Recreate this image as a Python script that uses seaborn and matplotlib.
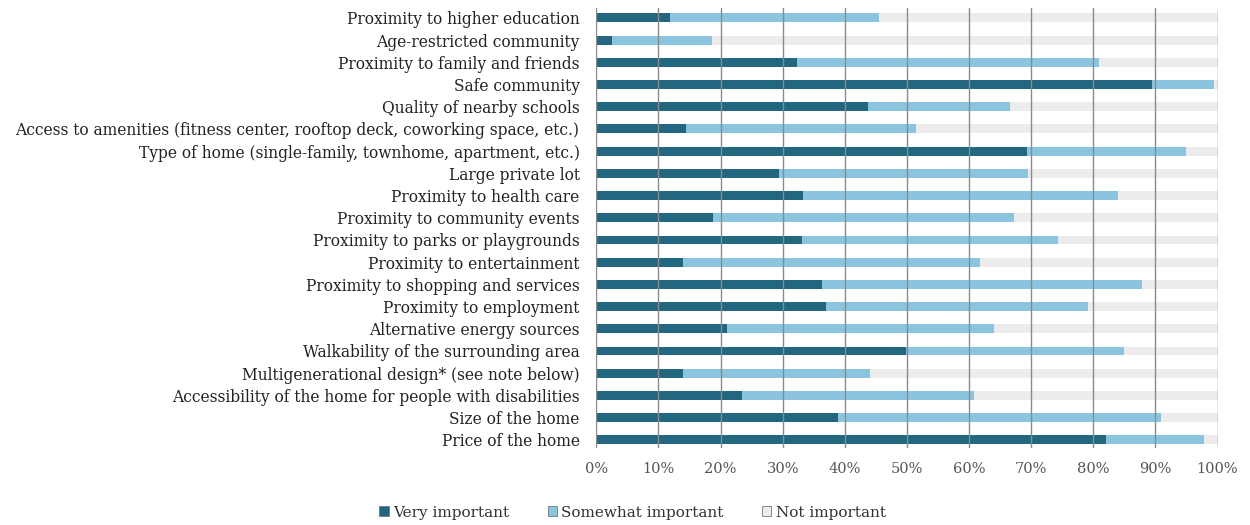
import pandas as pd
import matplotlib.pyplot as plt
import seaborn as sns
from matplotlib.patches import Patch

# Survey data (percent of respondents)
categories = [
    'Proximity to higher education',
    'Age-restricted community',
    'Proximity to family and friends',
    'Safe community',
    'Quality of nearby schools',
    'Access to amenities (fitness center, rooftop deck, coworking space, etc.)',
    'Type of home (single-family, townhome, apartment, etc.)',
    'Large private lot',
    'Proximity to health care',
    'Proximity to community events',
    'Proximity to parks or playgrounds',
    'Proximity to entertainment',
    'Proximity to shopping and services',
    'Proximity to employment',
    'Alternative energy sources',
    'Walkability of the surrounding area',
    'Multigenerational design* (see note below)',
    'Accessibility of the home for people with disabilities',
    'Size of the home',
    'Price of the home',
]
very_important = [11.8, 2.6, 32.3, 89.5, 43.8, 14.4, 69.3, 29.4, 33.3, 18.8,
                  33.1, 13.9, 36.3, 37.0, 21.1, 49.9, 13.9, 23.4, 38.9, 82.1]
somewhat_important = [33.7, 16.0, 48.7, 10.0, 22.8, 37.0, 25.6, 40.1, 50.7, 48.4,
                      41.2, 47.9, 51.5, 42.1, 43.0, 35.1, 30.2, 37.4, 52.0, 15.7]
not_important = [54.5, 81.4, 19.0, 0.5, 33.4, 48.6, 5.1, 30.5, 16.0, 32.8,
                 25.7, 38.2, 12.2, 20.9, 35.9, 15.0, 55.9, 39.2, 9.1, 2.2]

series_names = ['Very important', 'Somewhat important', 'Not important']
colors = ['#22667f', '#8ac4de', '#ececec']

df = pd.DataFrame({
    'Category': categories,
    'Very important': very_important,
    'Somewhat important': somewhat_important,
    'Not important': not_important,
})
# cumulative ends for stacking (drawn back to front)
df['cum1'] = df['Very important']
df['cum2'] = df['cum1'] + df['Somewhat important']
df['cum3'] = df['cum2'] + df['Not important']

sns.set_style('white')
plt.rcParams['font.family'] = ['DejaVu Serif']

fig, ax = plt.subplots(figsize=(12.5, 5.25), dpi=100)
fig.subplots_adjust(left=0.477, right=0.974, top=0.985, bottom=0.147)

for col, color in zip(['cum3', 'cum2', 'cum1'], colors[::-1]):
    sns.barplot(data=df, y='Category', x=col, color=color, width=0.4,
                orient='h', saturation=1, ax=ax, edgecolor='none')

ax.set_xlim(0, 100)
ax.set_ylim(len(categories) - 0.64, -0.45)
ax.set_xticks(range(0, 101, 10))
ax.set_xticklabels([f'{v}%' for v in range(0, 101, 10)], fontsize=10.5, color='#555555')
ax.tick_params(axis='y', labelsize=11.2, length=0, pad=12, labelcolor='#222222')
ax.tick_params(axis='x', length=4, color='#888888', pad=6, direction='out')
ax.xaxis.grid(True, color='#8a8a8a', linewidth=1.0)
ax.set_axisbelow(False)
ax.set_xlabel('')
ax.set_ylabel('')
for s in ['top', 'right', 'bottom', 'left']:
    ax.spines[s].set_visible(False)

handles = [Patch(facecolor=c, edgecolor='#777777', linewidth=0.6) for c in colors]
fig.legend(handles, series_names, loc='lower center', bbox_to_anchor=(0.506, -0.016),
           ncol=3, frameon=False, fontsize=11, handlelength=0.6, handleheight=0.6,
           handletextpad=0.3, columnspacing=2.5, labelcolor='#333333')

plt.savefig('out.png', dpi=100)
